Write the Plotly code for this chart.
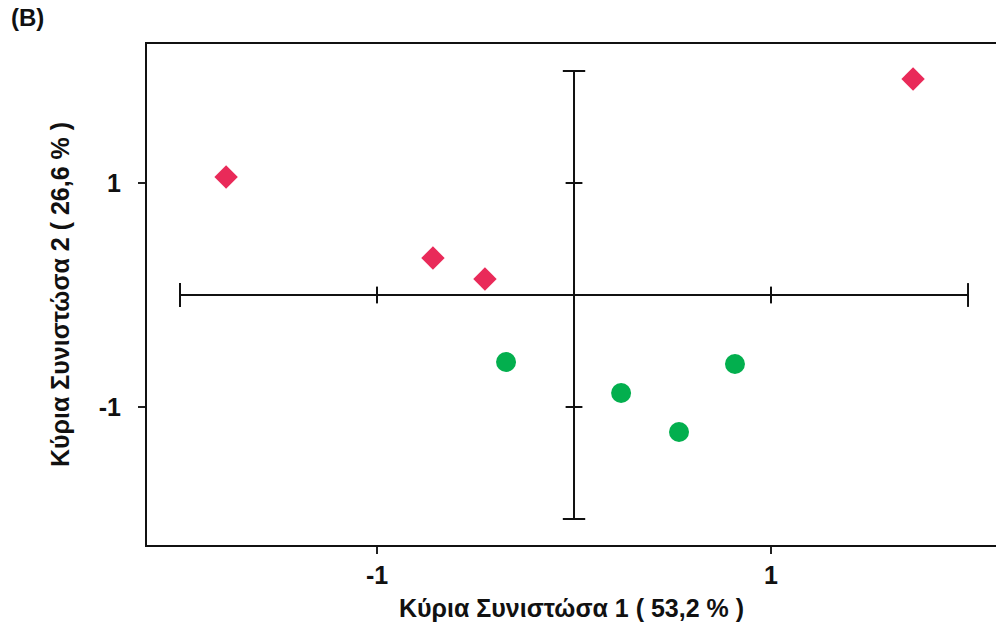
import plotly.graph_objects as go

# Data
group_a_x = [-1.766, -0.716, -0.452, 1.721]
group_a_y = [1.054, 0.330, 0.143, 1.929]
group_b_x = [-0.345, 0.239, 0.533, 0.817]
group_b_y = [-0.598, -0.875, -1.223, -0.616]

cross_ticks = [-2, -1, 0, 1, 2]
axis_ticks = [-1, 1]
axis_tick_labels = ["-1", "1"]

x_title = "Κύρια Συνιστώσα 1 ( 53,2 % )"
y_title = "Κύρια Συνιστώσα 2 ( 26,6 % )"
panel_label = "(B)"

FONT = "Liberation Sans, Arial, sans-serif"
TXT = "#111"

fig = go.Figure()

# crosshair lines
fig.add_trace(go.Scatter(x=[cross_ticks[0], cross_ticks[-1]], y=[0, 0], mode="lines",
                         line=dict(color="#111", width=2), hoverinfo="skip", showlegend=False))
fig.add_trace(go.Scatter(x=[0, 0], y=[cross_ticks[0], cross_ticks[-1]], mode="lines",
                         line=dict(color="#111", width=2), hoverinfo="skip", showlegend=False))
# crosshair ticks
fig.add_trace(go.Scatter(x=cross_ticks[1:-1], y=[0] * 3, mode="markers",
                         marker=dict(symbol="line-ns", size=12, line=dict(color="#111", width=2)),
                         hoverinfo="skip", showlegend=False))
fig.add_trace(go.Scatter(x=[cross_ticks[0], cross_ticks[-1]], y=[0, 0], mode="markers",
                         marker=dict(symbol="line-ns", size=17, line=dict(color="#111", width=2)),
                         hoverinfo="skip", showlegend=False))
fig.add_trace(go.Scatter(x=[0] * 3, y=cross_ticks[1:-1], mode="markers",
                         marker=dict(symbol="line-ew", size=12, line=dict(color="#111", width=2)),
                         hoverinfo="skip", showlegend=False))
fig.add_trace(go.Scatter(x=[0, 0], y=[cross_ticks[0], cross_ticks[-1]], mode="markers",
                         marker=dict(symbol="line-ew", size=16, line=dict(color="#111", width=2)),
                         hoverinfo="skip", showlegend=False))

# data points
fig.add_trace(go.Scatter(x=group_a_x, y=group_a_y, mode="markers",
                         marker=dict(symbol="diamond", size=18, color="#E92A59", line=dict(width=0)),
                         showlegend=False))
fig.add_trace(go.Scatter(x=group_b_x, y=group_b_y, mode="markers",
                         marker=dict(symbol="circle", size=20, color="#03AF4E", line=dict(width=0)),
                         showlegend=False))

fig.update_layout(
    width=996, height=625,
    margin=dict(l=147, r=0, t=44, b=80),
    paper_bgcolor="white", plot_bgcolor="white",
    font=dict(family=FONT, color=TXT),
    xaxis=dict(range=[-2.1675, 2.142], tickvals=axis_ticks, ticktext=axis_tick_labels,
               ticks="outside", ticklen=7, tickwidth=2, tickcolor="#222",
               showgrid=False, zeroline=False, showline=True, linewidth=2, linecolor="#111",
               mirror=True,
               tickfont=dict(size=25, family=FONT, color=TXT, weight="bold"),
               title=dict(text=x_title, font=dict(size=25, family=FONT, color=TXT, weight="bold"),
                          standoff=11)),
    yaxis=dict(range=[-2.232, 2.241], tickvals=axis_ticks, ticktext=axis_tick_labels,
               ticks="outside", ticklen=7, tickwidth=2, tickcolor="#222",
               ticklabelstandoff=12,
               showgrid=False, zeroline=False, showline=True, linewidth=2, linecolor="#111",
               tickfont=dict(size=25, family=FONT, color=TXT, weight="bold"),
               title=dict(text=y_title, font=dict(size=25, family=FONT, color=TXT, weight="bold"),
                          standoff=22)),
)
fig.add_annotation(text="<b>" + panel_label + "</b>", xref="paper", yref="paper",
                   x=-0.162, y=1.083, xanchor="left", yanchor="top", showarrow=False,
                   font=dict(size=24, family=FONT, color=TXT))

fig.write_html("out.html")
